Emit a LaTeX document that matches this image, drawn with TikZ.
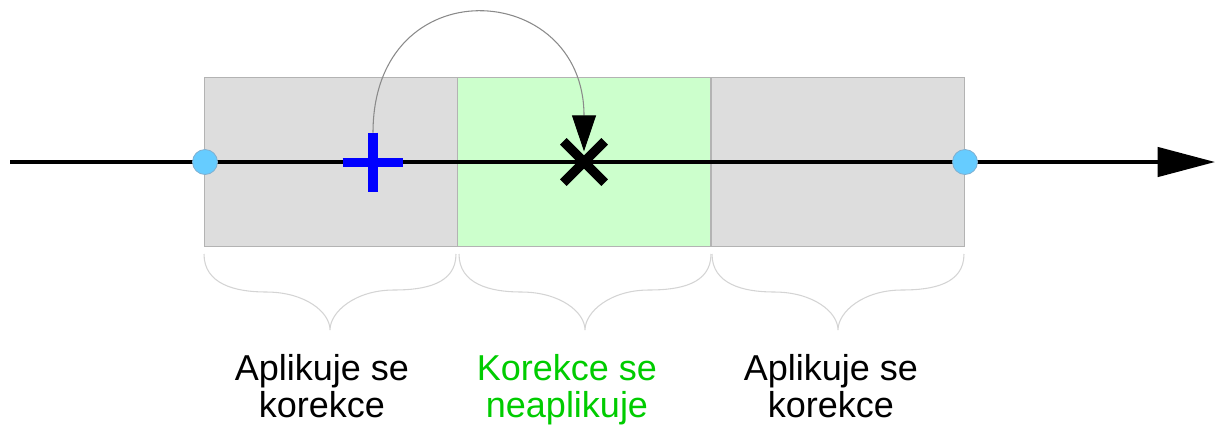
\documentclass[tikz,border=0pt]{standalone}
\usepackage{fontspec}
\setmainfont{Liberation Sans}
\usetikzlibrary{arrows.meta,shapes.misc}
\definecolor{boxgray}{HTML}{DDDDDD}
\definecolor{boxedge}{HTML}{B3B3B3}
\definecolor{boxgreen}{HTML}{CCFFCC}
\definecolor{dotblue}{HTML}{66CCFF}
\definecolor{dotedge}{HTML}{7FAFD0}
\definecolor{bracegray}{HTML}{D4D4D4}
\definecolor{arcgray}{HTML}{8A8A8A}
\definecolor{txtgreen}{HTML}{00CC00}
\definecolor{plusblue}{HTML}{0000FF}
\tikzset{
  seg/.style={draw=boxedge, line width=0.75pt, inner sep=0pt, minimum width=253*0.75pt, minimum height=169*0.75pt},
  dot/.style={circle, fill=dotblue, draw=dotedge, line width=0.6pt, inner sep=0pt, minimum size=25*0.75pt},
  axis/.style={line width=2.6pt, -{Triangle[length=43pt, width=22pt]}},
  hop/.style={draw=arcgray, line width=0.8pt, -{Triangle[length=27pt, width=18pt, fill=black, color=black]}, shorten >=8pt},
  bracestyle/.style={draw=bracegray, line width=0.8pt},
  lbl/.style={align=center, font=\fontsize{27}{27.75}\selectfont, inner sep=0pt, anchor=base},
  pics/mybrace/.style={code={
    \draw[bracestyle] (-126,0) .. controls (-126,30) and (-95,38) .. (-64,38)
      .. controls (-25,38) and (0,58) .. (0,76)
      .. controls (0,58) and (25,36) .. (64,36)
      .. controls (95,36) and (126,30) .. (126,0);
  }}
}
\begin{document}
\begin{tikzpicture}[x=0.75pt, y=-0.75pt]
\useasboundingbox (0,0) rectangle (1218,430);
% segments
\node[seg, fill=boxgray]  (s1) at (330.5,161.5) {};
\node[seg, fill=boxgreen] (s2) at (583.5,161.5) {};
\node[seg, fill=boxgray]  (s3) at (837.5,161.5) {};
% axis
\coordinate (axs) at (10,162);
\coordinate (axe) at (1215,162);
\draw[axis] (axs) -- (axe);
% endpoints
\node[dot] (pL) at (205,162) {};
\node[dot] (pR) at (965,162) {};
% plus
\node[inner sep=0pt, minimum width=60*0.75pt, minimum height=59*0.75pt] (plus) at (373,162.5) {};
\draw[plusblue, line width=7pt] (plus.north) -- (plus.south) (plus.west) -- (plus.east);
% cross
\node[cross out, draw=black, line width=7pt, inner sep=0pt, minimum size=32*0.75pt] (cross) at (584,162) {};
% hop arc
\draw[hop] (plus.north) .. controls +(0,-166) and +(0,-183) .. (cross.center);
% braces
\pic at (330,254) {mybrace};
\pic at (585,254) {mybrace};
\pic at (838,254) {mybrace};
% labels
\node[lbl] (t1) at (322,417) {Aplikuje se\\korekce};
\node[lbl, text=txtgreen] (t2) at (567,417) {Korekce se\\neaplikuje};
\node[lbl] (t3) at (831,417) {Aplikuje se\\korekce};
\end{tikzpicture}
\end{document}
